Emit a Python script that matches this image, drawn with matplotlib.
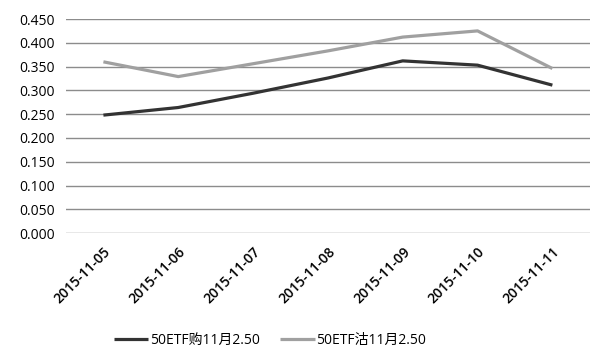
import matplotlib.pyplot as plt

plt.rcParams['font.family'] = ['Open Sans', 'Noto Sans CJK SC', 'DejaVu Sans']

dates = ["2015-11-05", "2015-11-06", "2015-11-07", "2015-11-08",
         "2015-11-09", "2015-11-10", "2015-11-11"]
call_vals = [0.248, 0.264, 0.294, 0.326, 0.362, 0.353, 0.311]
put_vals = [0.360, 0.329, 0.356, 0.383, 0.412, 0.425, 0.346]
yticks = [0.0, 0.05, 0.1, 0.15, 0.2, 0.25, 0.3, 0.35, 0.4, 0.45]

fig = plt.figure(figsize=(6, 3.62), dpi=100)
ax = fig.add_axes([0.11, 0.356, 0.873, 0.5915])

x = range(len(dates))
ax.plot(x, call_vals, color="#333333", lw=2.3, label="50ETF购11月2.50", solid_capstyle="butt")
ax.plot(x, put_vals, color="#a0a0a0", lw=2.3, label="50ETF沽11月2.50", solid_capstyle="butt")

ax.set_xlim(-0.5, len(dates) - 0.5)
ax.set_ylim(0, 0.45)
ax.set_yticks(yticks)
ax.set_yticklabels([f"{v:.3f}" for v in yticks], fontsize=10)
ax.set_xticks(list(x))
ax.set_xticklabels(dates, rotation=45, ha="right", rotation_mode="anchor",
                   fontsize=10, fontweight="semibold")
ax.tick_params(length=0, pad=8)
ax.yaxis.grid(True, color="#8c8c8c", lw=1)
ax.set_axisbelow(True)
for s in ax.spines.values():
    s.set_visible(False)

fig.legend(loc="center", bbox_to_anchor=(0.45, 0.06), ncol=2, frameon=False,
           fontsize=10, handlelength=2.5, handletextpad=0.1, columnspacing=1.5)

fig.savefig("out.png")
